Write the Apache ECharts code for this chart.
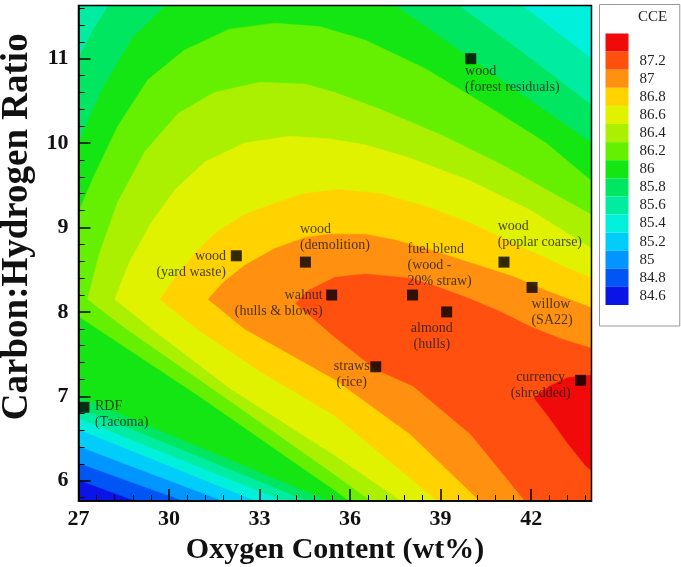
<!DOCTYPE html>
<html>
<head>
<meta charset="utf-8">
<script src="https://cdn.jsdelivr.net/npm/echarts@6/dist/echarts.min.js"></script>
<style>
  html, body { margin: 0; padding: 0; background: #fff; }
  #chart { width: 681px; height: 567px; }
</style>
</head>
<body>
<div id="chart"></div>
<script>
// plot range
const oMin = 27, oMax = 44
const chMin = 5.76, chMax = 11.63

// tick values
const oTicks = [27, 30, 33, 36, 39, 42]
const oMinorTicks = [27.6, 28.2, 28.8, 29.4, 30.6, 31.2, 31.8, 32.4, 33.6, 34.2, 34.8, 35.4,
  36.6, 37.2, 37.8, 38.4, 39.6, 40.2, 40.8, 41.4, 42.6, 43.2, 43.8]
const chTicks = [6, 7, 8, 9, 10, 11]
const chMinorTicks = [5.8, 6.2, 6.4, 6.6, 6.8, 7.2, 7.4, 7.6, 7.8, 8.2, 8.4, 8.6, 8.8,
  9.2, 9.4, 9.6, 9.8, 10.2, 10.4, 10.6, 10.8, 11.2, 11.4, 11.6]

// legend labels, band 14 (top) down to band 0
const cceLabels = [' ', '87.2', '87', '86.8', '86.6', '86.4', '86.2', '86', '85.8', '85.6', '85.4', '85.2', '85', '84.8', '84.6']

// region where CCE is in band k or higher
const cce0 = [[oMin, chMin], [oMax, chMin], [oMax, chMax], [oMin, chMax]]
const cce1 = [[oMin, 6.01], [28.9, chMin], [oMax, chMin], [oMax, chMax], [oMin, chMax]]
const cce2 = [[oMin, 6.21], [30.5, chMin], [oMax, chMin], [oMax, chMax], [oMin, chMax]]
const cce3 = [[oMin, 6.41], [31.8, chMin], [oMax, chMin], [oMax, chMax], [oMin, chMax]]
const cce4 = [[oMin, 6.61], [32.9, chMin], [oMax, chMin], [oMax, chMax], [oMin, chMax]]
const cce5 = [[oMin, 6.74], [33.8, chMin], [oMax, chMin], [oMax, 11.0], [41.7, chMax], [oMin, chMax]]
const cce6 = [[oMin, 6.87], [34.6, chMin], [oMax, chMin], [oMax, 10.45], [41.8, 11.05], [39.6, chMax],
  [28.0, chMax], [27.5, 11.35], [oMin, 11.0]]
const cce7 = [[oMin, 7.0], [35.3, chMin], [oMax, chMin], [oMax, 10.0], [42, 10.5], [40, 11.0], [37.5, chMax],
  [29.9, chMax], [28.8, 11.25], [27.8, 10.65], [oMin, 10.0]]
const cce8 = [[oMin, 7.95], [31, 7.0], [36.0, chMin], [oMax, chMin], [oMax, 9.55], [42.5, 10.0], [40.5, 10.45],
  [38.5, 10.88], [36.5, 11.22], [35, 11.38], [33.5, 11.42], [32, 11.35], [30.5, 11.1], [29.3, 10.75],
  [28.3, 10.2], [27.5, 9.6], [oMin, 9.18]]
const cce9 = [[27.3, 8.15], [28.5, 7.82], [32, 6.95], [35.5, 6.07], [36.7, chMin], [oMax, chMin], [oMax, 9.15],
  [41, 9.75], [39, 10.1], [37, 10.4], [35.5, 10.6], [34.5, 10.7], [33, 10.72], [31.5, 10.6], [30.3, 10.35],
  [29.2, 9.9], [28.3, 9.3], [27.7, 8.7]]
const cce10 = [[28.2, 8.15], [29.5, 7.78], [32, 7.1], [35.5, 6.3], [37.7, chMin], [oMax, chMin], [oMax, 8.75],
  [42, 9.2], [40, 9.55], [38, 9.82], [36.5, 9.98], [35.3, 10.05], [34, 10.08], [32.5, 10.0], [31.2, 9.78],
  [30.2, 9.45], [29.4, 9.05], [28.7, 8.6]]
const cce11 = [[29.7, 8.15], [31, 7.78], [33, 7.3], [35.5, 6.77], [38.9, chMin], [oMax, chMin], [oMax, 8.4],
  [43, 8.55], [41.5, 8.8], [40, 9.05], [38.5, 9.25], [37, 9.4], [35.6, 9.45], [34.5, 9.4], [33.6, 9.3],
  [32.5, 9.15], [31.6, 8.95], [31, 8.75], [30.3, 8.45]]
const cce12 = [[31.3, 8.15], [32.5, 7.8], [35.5, 7.2], [38, 6.55], [40.3, chMin], [oMax, chMin], [oMax, 8.05],
  [42.5, 8.25], [41.4, 8.42], [40, 8.58], [38.6, 8.74], [37.5, 8.85], [36.5, 8.92], [35.3, 8.92],
  [34.5, 8.88], [33.5, 8.75], [32.5, 8.55], [31.8, 8.35]]
const cce13 = [[34.2, 8.1], [35.5, 7.7], [36.85, 7.32], [38.1, 7.12], [40, 6.55], [41.8, chMin], [oMax, chMin],
  [oMax, 7.57], [43, 7.68], [42, 7.82], [41, 8.0], [40, 8.15], [38.8, 8.31], [38, 8.4], [36.5, 8.45],
  [35.5, 8.41], [34.6, 8.25]]
const cce14 = [[oMax, 7.25], [43.2, 7.22], [42.6, 7.12], [42.1, 6.98], [42.6, 6.75], [43.2, 6.45],
  [43.8, 6.18], [oMax, 6.12]]

// fuel samples
const sampleO = [40.0, 32.23, 34.52, 35.39, 38.07, 39.2, 41.1, 42.03, 36.85, 43.64, 27.18]
const sampleCH = [11.0, 8.665, 8.59, 8.2, 8.2, 8.0, 8.59, 8.29, 7.35, 7.19, 6.87]
const sampleNames = ['wood\n(forest residuals)', 'wood\n(yard waste)', 'wood\n(demolition)',
  'walnut\n(hulls & blows)', 'fuel blend\n(wood -\n20% straw)', 'almond\n(hulls)', 'wood\n(poplar coarse)',
  'willow\n(SA22)', 'straws\n(rice)', 'currency\n(shredded)', 'RDF\n(Tacoma)']

const bandRegions = [cce0, cce1, cce2, cce3, cce4, cce5, cce6, cce7, cce8, cce9, cce10, cce11, cce12, cce13, cce14]
const bandColors = ['#0a14e6', '#0055f5', '#0095ff', '#00cdfa', '#00f0dc', '#00eca0', '#00e660', '#14e614',
  '#64f000', '#aaf000', '#e0f200', '#ffd200', '#ff9010', '#ff5010', '#f00a0a']

// label placement around each marker: anchor offset from marker centre
const labelPlace = [
  { align: 'left', dx: -5.7, dy: 5 },
  { align: 'right', dx: -10.3, dy: -7.7 },
  { align: 'left', dx: -5.5, dy: -40.8 },
  { align: 'right', dx: -9, dy: -8 },
  { align: 'left', dx: -5, dy: -54 },
  { align: 'center', dx: -14.8, dy: 8.6 },
  { align: 'left', dx: -6.3, dy: -43.7 },
  { align: 'left', dx: -0.6, dy: 8.7 },
  { align: 'center', dx: -24, dy: -8 },
  { align: 'center', dx: -40, dy: -11.4 },
  { align: 'left', dx: 11, dy: -8.5 }
]

const serif = 'Liberation Serif'
const markSize = 11

const chart = echarts.init(document.getElementById('chart'))
chart.setOption({
  animation: false,
  backgroundColor: '#fff',
  title: {
    text: 'CCE',
    left: 638,
    top: 10,
    padding: 0,
    textStyle: { fontFamily: serif, fontSize: 15, fontWeight: 'normal', color: '#222' }
  },
  grid: {
    show: true,
    left: 78.5,
    top: 5.5,
    width: 513,
    height: 495.5,
    outerBoundsMode: 'none',
    containLabel: false,
    borderColor: '#000',
    borderWidth: 1.5,
    backgroundColor: 'transparent',
    z: 10
  },
  xAxis: [
    {
      type: 'value',
      min: oMin,
      max: oMax,
      position: 'bottom',
      z: 11,
      name: 'Oxygen Content (wt%)',
      nameLocation: 'middle',
      nameGap: 33,
      nameTextStyle: { fontFamily: serif, fontWeight: 'bold', fontSize: 30, color: '#111' },
      axisLine: { show: true, lineStyle: { color: '#000', width: 1.5 } },
      axisTick: { show: true, inside: true, length: 12, customValues: oTicks, lineStyle: { color: '#000', width: 1.5 } },
      axisLabel: { customValues: oTicks, margin: 7, fontFamily: serif, fontWeight: 'bold', fontSize: 22, color: '#111' },
      splitLine: { show: false }
    },
    {
      type: 'value',
      min: oMin,
      max: oMax,
      position: 'bottom',
      z: 11,
      axisLine: { show: false },
      axisTick: { show: true, inside: true, length: 6, customValues: oMinorTicks, lineStyle: { color: '#000', width: 1 } },
      axisLabel: { show: false },
      splitLine: { show: false }
    }
  ],
  yAxis: [
    {
      type: 'value',
      min: chMin,
      max: chMax,
      position: 'left',
      z: 11,
      name: 'Carbon:Hydrogen Ratio',
      nameLocation: 'middle',
      nameGap: 42,
      nameTextStyle: { fontFamily: serif, fontWeight: 'bold', fontSize: 37, color: '#111', padding: [0, 0, 0, 53] },
      axisLine: { show: true, lineStyle: { color: '#000', width: 1.5 } },
      axisTick: { show: true, inside: true, length: 12, customValues: chTicks, lineStyle: { color: '#000', width: 1.5 } },
      axisLabel: { customValues: chTicks, margin: 10, fontFamily: serif, fontWeight: 'bold', fontSize: 22, color: '#111' },
      splitLine: { show: false }
    },
    {
      type: 'value',
      min: chMin,
      max: chMax,
      position: 'left',
      z: 11,
      axisLine: { show: false },
      axisTick: { show: true, inside: true, length: 6, customValues: chMinorTicks, lineStyle: { color: '#000', width: 1 } },
      axisLabel: { show: false },
      splitLine: { show: false }
    }
  ],
  visualMap: {
    type: 'piecewise',
    seriesIndex: 0,
    dimension: 2,
    orient: 'vertical',
    align: 'left',
    left: 599,
    top: 4,
    padding: [29, 14, 21, 6],
    itemWidth: 23,
    itemHeight: 18.1,
    itemGap: 0,
    textGap: 11,
    itemSymbol: 'rect',
    selectedMode: false,
    hoverLink: false,
    borderColor: '#999',
    borderWidth: 1,
    backgroundColor: '#fff',
    textStyle: { fontFamily: serif, fontSize: 15, color: '#222' },
    pieces: cceLabels.map((label, i) => ({ value: 14 - i, label: label, color: bandColors[14 - i] }))
  },
  series: [
    {
      type: 'custom',
      clip: true,
      z: 2,
      data: bandRegions.map((r, i) => [oMin, chMin, i]),
      renderItem: function (params, api) {
        const region = bandRegions[api.value(2)]
        return {
          type: 'polygon',
          shape: { points: region.map(p => api.coord(p)) },
          style: { fill: api.visual('color'), stroke: api.visual('color'), lineWidth: 0.5 }
        }
      }
    },
    {
      type: 'scatter',
      z: 5,
      symbol: 'rect',
      symbolSize: markSize,
      itemStyle: { color: '#000' },
      data: sampleO.map((o, i) => ({
        value: [o, sampleCH[i]],
        label: {
          show: true,
          formatter: sampleNames[i],
          position: [labelPlace[i].dx + markSize / 2, labelPlace[i].dy + markSize / 2],
          align: labelPlace[i].align,
          verticalAlign: 'top',
          fontFamily: serif,
          fontSize: 14,
          lineHeight: 16,
          color: '#1a1a1a'
        }
      }))
    }
  ]
})
</script>
</body>
</html>
